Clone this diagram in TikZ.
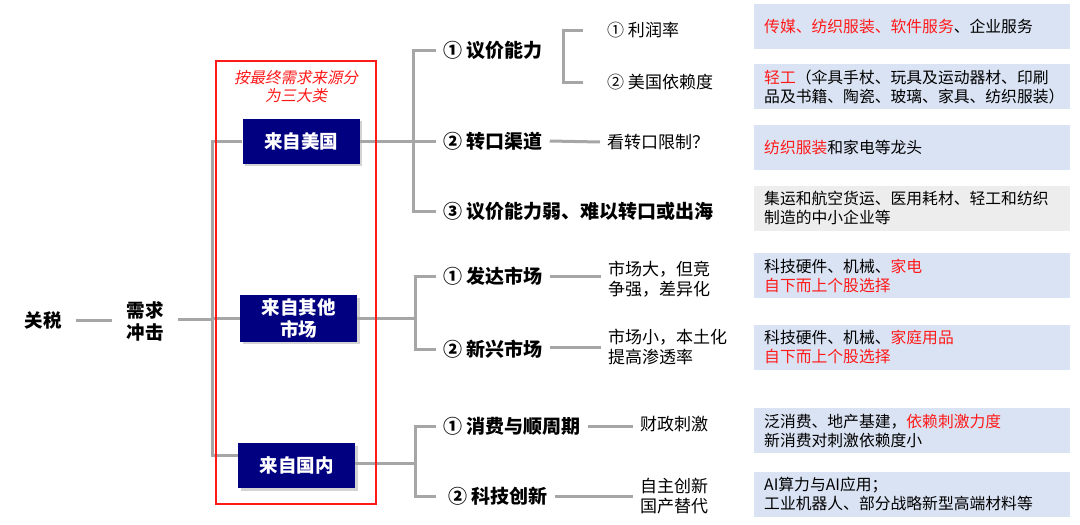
\documentclass[tikz,border=0pt]{standalone}
\usepackage{fontspec}
\setmainfont{Noto Sans CJK SC}
\newfontfamily\slantcjk{Noto Sans CJK SC}[FakeSlant=0.2]
\usepackage[HTML]{xcolor}
\usetikzlibrary{positioning, shadows}
\definecolor{navy}{HTML}{000080}
\definecolor{linegray}{HTML}{A6A6A6}
\definecolor{hired}{HTML}{FF1A1A}
\definecolor{paleblue}{HTML}{DAE3F3}
\definecolor{palegray}{HTML}{EDEDED}
\newcommand{\hl}[1]{\textcolor{hired}{#1}}

\begin{document}
\begin{tikzpicture}[x=1pt,y=-1pt,
  conn/.style={draw=linegray, line width=3pt},
  root/.style={font=\fontsize{18.5}{22}\selectfont\bfseries, align=center, inner xsep=14pt},
  srcbox/.style={fill=navy, text=white, font=\fontsize{18.5}{22}\selectfont\bfseries,
    minimum width=117pt, minimum height=45pt, align=center,
    drop shadow={opacity=0.35, shadow xshift=2.5pt, shadow yshift=-2.5pt}},
  lvltwo/.style={anchor=west, font=\fontsize{19}{22}\selectfont\bfseries, inner xsep=7pt},
  note/.style={anchor=west, font=\fontsize{17}{20}\selectfont, align=left, inner xsep=7pt},
  infobox/.style={anchor=west, fill=paleblue, minimum width=316pt, minimum height=45pt,
    text width=296pt, inner xsep=10pt, align=left, font=\fontsize{15.8}{19}\selectfont}]
\useasboundingbox (0,0) rectangle (1080,525);

% root
\node[root] (tax) at (43,320) {关税};
\node[root] (need) at (145,321) {需求\\冲击};

% three sources
\node[srcbox] (us) at (301,141) {来自美国};
\node[srcbox] (other) at (298.5,318.5) {来自其他\\市场};
\node[srcbox] (dom) at (296.5,465.5) {来自国内};
\node[text=hired, font=\slantcjk\fontsize{15.5}{17.5}\selectfont, align=center] (tag) at (296,86.5) {按最终需求来源分\\为三大类};

% second level
\node[lvltwo] (bargain) at (436,50) {① 议价能力};
\node[lvltwo] (transit) at (436,141) {② 转口渠道};
\node[lvltwo] (weak) at (436,211) {③ 议价能力弱、难以转口或出海};
\node[lvltwo] (devd) at (436,276) {① 发达市场};
\node[lvltwo] (emrg) at (436,349) {② 新兴市场};
\node[lvltwo] (cons) at (436,426) {① 消费与顺周期};
\node[lvltwo] (tech) at (441,496) {② 科技创新};

% notes
\node[note] (rate) at (600,30) {① 利润率};
\node[note] (dep) at (600,82) {② 美国依赖度};
\node[note] (limit) at (600,142) {看转口限制？};
\node[note] (devnote) at (601,279.5) {市场大，但竞\\争强，差异化};
\node[note] (emnote) at (601,347) {市场小，本土化\\提高渗透率};
\node[note] (fiscal) at (633,424) {财政刺激};
\node[note] (indep) at (633,496) {自主创新\\国产替代};

% sector boxes
\node[infobox] (ib1) at (754,26.5) {\hl{传媒、纺织服装、软件服务}、企业服务};
\node[infobox] (ib2) at (754,86.5) {\hl{轻工}（伞具手杖、玩具及运动器材、印刷\\品及书籍、陶瓷、玻璃、家具、纺织服装）};
\node[infobox] (ib3) at (754,147.5) {\hl{纺织服装}和家电等龙头};
\node[infobox, fill=palegray] (ib4) at (754,208) {集运和航空货运、医用耗材、轻工和纺织\\制造的中小企业等};
\node[infobox] (ib5) at (754,275.5) {科技硬件、机械、\hl{家电}\\\hl{自下而上个股选择}};
\node[infobox] (ib6) at (754,347) {科技硬件、机械、\hl{家庭用品}\\\hl{自下而上个股选择}};
\node[infobox] (ib7) at (754,430.5) {泛消费、地产基建，\hl{依赖刺激力度}\\新消费对刺激依赖度小};
\node[infobox] (ib8) at (754,494) {AI算力与AI应用；\\工业机器人、部分战略新型高端材料等};

% connectors
\coordinate (trunk) at (212,319);
\draw[conn] (tax.east) -- (tax.east -| need.west);
\draw[conn] (need.east |- trunk) -- (trunk);
\draw[conn] (trunk) |- (us.west);
\draw[conn] (trunk) |- (other.west);
\draw[conn] (trunk) |- ([yshift=10pt]dom.west);

\coordinate (usfork) at (413,141);
\draw[conn] (us.east) -- (usfork);
\draw[conn] (usfork) |- (bargain.west);
\draw[conn] (usfork) -- (transit.west);
\draw[conn] (usfork) |- (weak.west);
\coordinate (ratefork) at (563,56);
\draw[conn, shorten <=17pt, shorten >=17pt] (rate.west) -| (ratefork) |- (dep.west);
\draw[conn] (transit.east) -- (limit.west);

\coordinate (otherfork) at (415,318.5);
\draw[conn] (other.east) -- (otherfork);
\draw[conn] (otherfork) |- (devd.west);
\draw[conn] (otherfork) |- (emrg.west);
\draw[conn] (devd.east) -- (devd.east -| devnote.west);
\draw[conn] (emrg.east |- emnote.west) -- (emnote.west);

\coordinate (domfork) at (415,463);
\draw[conn] (dom.east |- domfork) -- (domfork);
\draw[conn] (domfork) |- (cons.west);
\draw[conn, shorten >=5pt] (domfork) |- (tech.west);
\draw[conn] (cons.east) -- (cons.east -| fiscal.west);
\draw[conn] (tech.east) -- (tech.east -| indep.west);

% frame round the three sources
\draw[hired, line width=1.3pt] (216,61) rectangle (376,504);
\end{tikzpicture}
\end{document}
